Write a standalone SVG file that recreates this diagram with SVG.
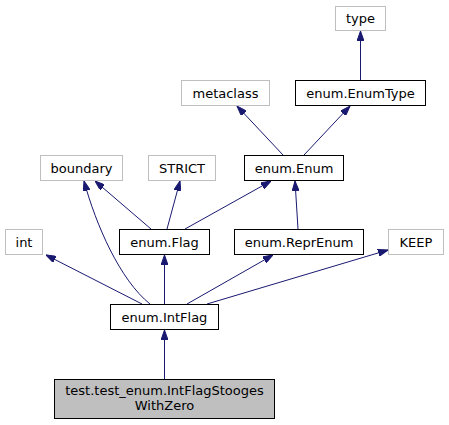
<svg xmlns="http://www.w3.org/2000/svg" width="449" height="425" viewBox="0 0 449 425">
<style>
text{font-family:"DejaVu Sans",sans-serif;font-size:13px;text-anchor:middle;fill:#000}
.g rect{fill:#fff;stroke:#bfbfbf;stroke-width:1}
.b rect{fill:#fff;stroke:#000;stroke-width:1}
.c rect{fill:#bfbfbf;stroke:#000;stroke-width:1}
#edges path{fill:none;stroke:#191970;stroke-width:1;marker-end:url(#ah)}
</style>
<defs>
<marker id="ah" markerUnits="userSpaceOnUse" viewBox="0 0 10 7" refX="10" refY="3.5" markerWidth="10" markerHeight="7" orient="auto">
<path d="M0,0 L10,3.5 L0,7 z" fill="#191970" stroke="#191970"/>
</marker>
</defs>
<rect width="449" height="425" fill="#fff"/>
<g id="edges">
<path d="M360.5,80 L360.5,31"/>
<path d="M283,155 L237,106"/>
<path d="M304,155 L350,106"/>
<path d="M151,229 L95,181"/>
<path d="M167,229 L180,181"/>
<path d="M185,229 L271,181"/>
<path d="M298,229 L295,181"/>
<path d="M142,304 L46,255"/>
<path d="M150,304 C120,280 96,225 84,181"/>
<path d="M164.5,304 L164.5,255"/>
<path d="M187,304 L273,255"/>
<path d="M207,304 L388,250"/>
<path d="M164.5,379 L164.5,330"/>
</g>
<g id="type" class="g"><rect x="335.5" y="6.5" width="50" height="24"/><text x="360.5" y="23">type</text></g>
<g id="metaclass" class="g"><rect x="181.5" y="80.5" width="88" height="25"/><text x="225.5" y="97.5">metaclass</text></g>
<g id="enum_EnumType" class="b"><rect x="295.5" y="80.5" width="130" height="25"/><text x="360.5" y="97.5">enum.EnumType</text></g>
<g id="boundary" class="g"><rect x="40.5" y="155.5" width="82" height="25"/><text x="81.5" y="172.5">boundary</text></g>
<g id="STRICT" class="g"><rect x="148.5" y="155.5" width="67" height="25"/><text x="182" y="172.5">STRICT</text></g>
<g id="enum_Enum" class="b"><rect x="244.5" y="155.5" width="99" height="25"/><text x="294" y="172.5">enum.Enum</text></g>
<g id="int" class="g"><rect x="5.5" y="229.5" width="37" height="25"/><text x="24" y="246.5">int</text></g>
<g id="enum_Flag" class="b"><rect x="119.5" y="229.5" width="90" height="25"/><text x="164.5" y="246.5">enum.Flag</text></g>
<g id="enum_ReprEnum" class="b"><rect x="234.5" y="229.5" width="129" height="25"/><text x="299" y="246.5">enum.ReprEnum</text></g>
<g id="KEEP" class="g"><rect x="388.5" y="229.5" width="55" height="25"/><text x="416" y="246.5">KEEP</text></g>
<g id="enum_IntFlag" class="b"><rect x="110.5" y="304.5" width="108" height="25"/><text x="164.5" y="321.5">enum.IntFlag</text></g>
<g id="test_node" class="c"><rect x="54.5" y="379.5" width="220" height="39"/><text x="164.5" y="395">test.test_enum.IntFlagStooges</text><text x="164.5" y="410">WithZero</text></g>
</svg>
